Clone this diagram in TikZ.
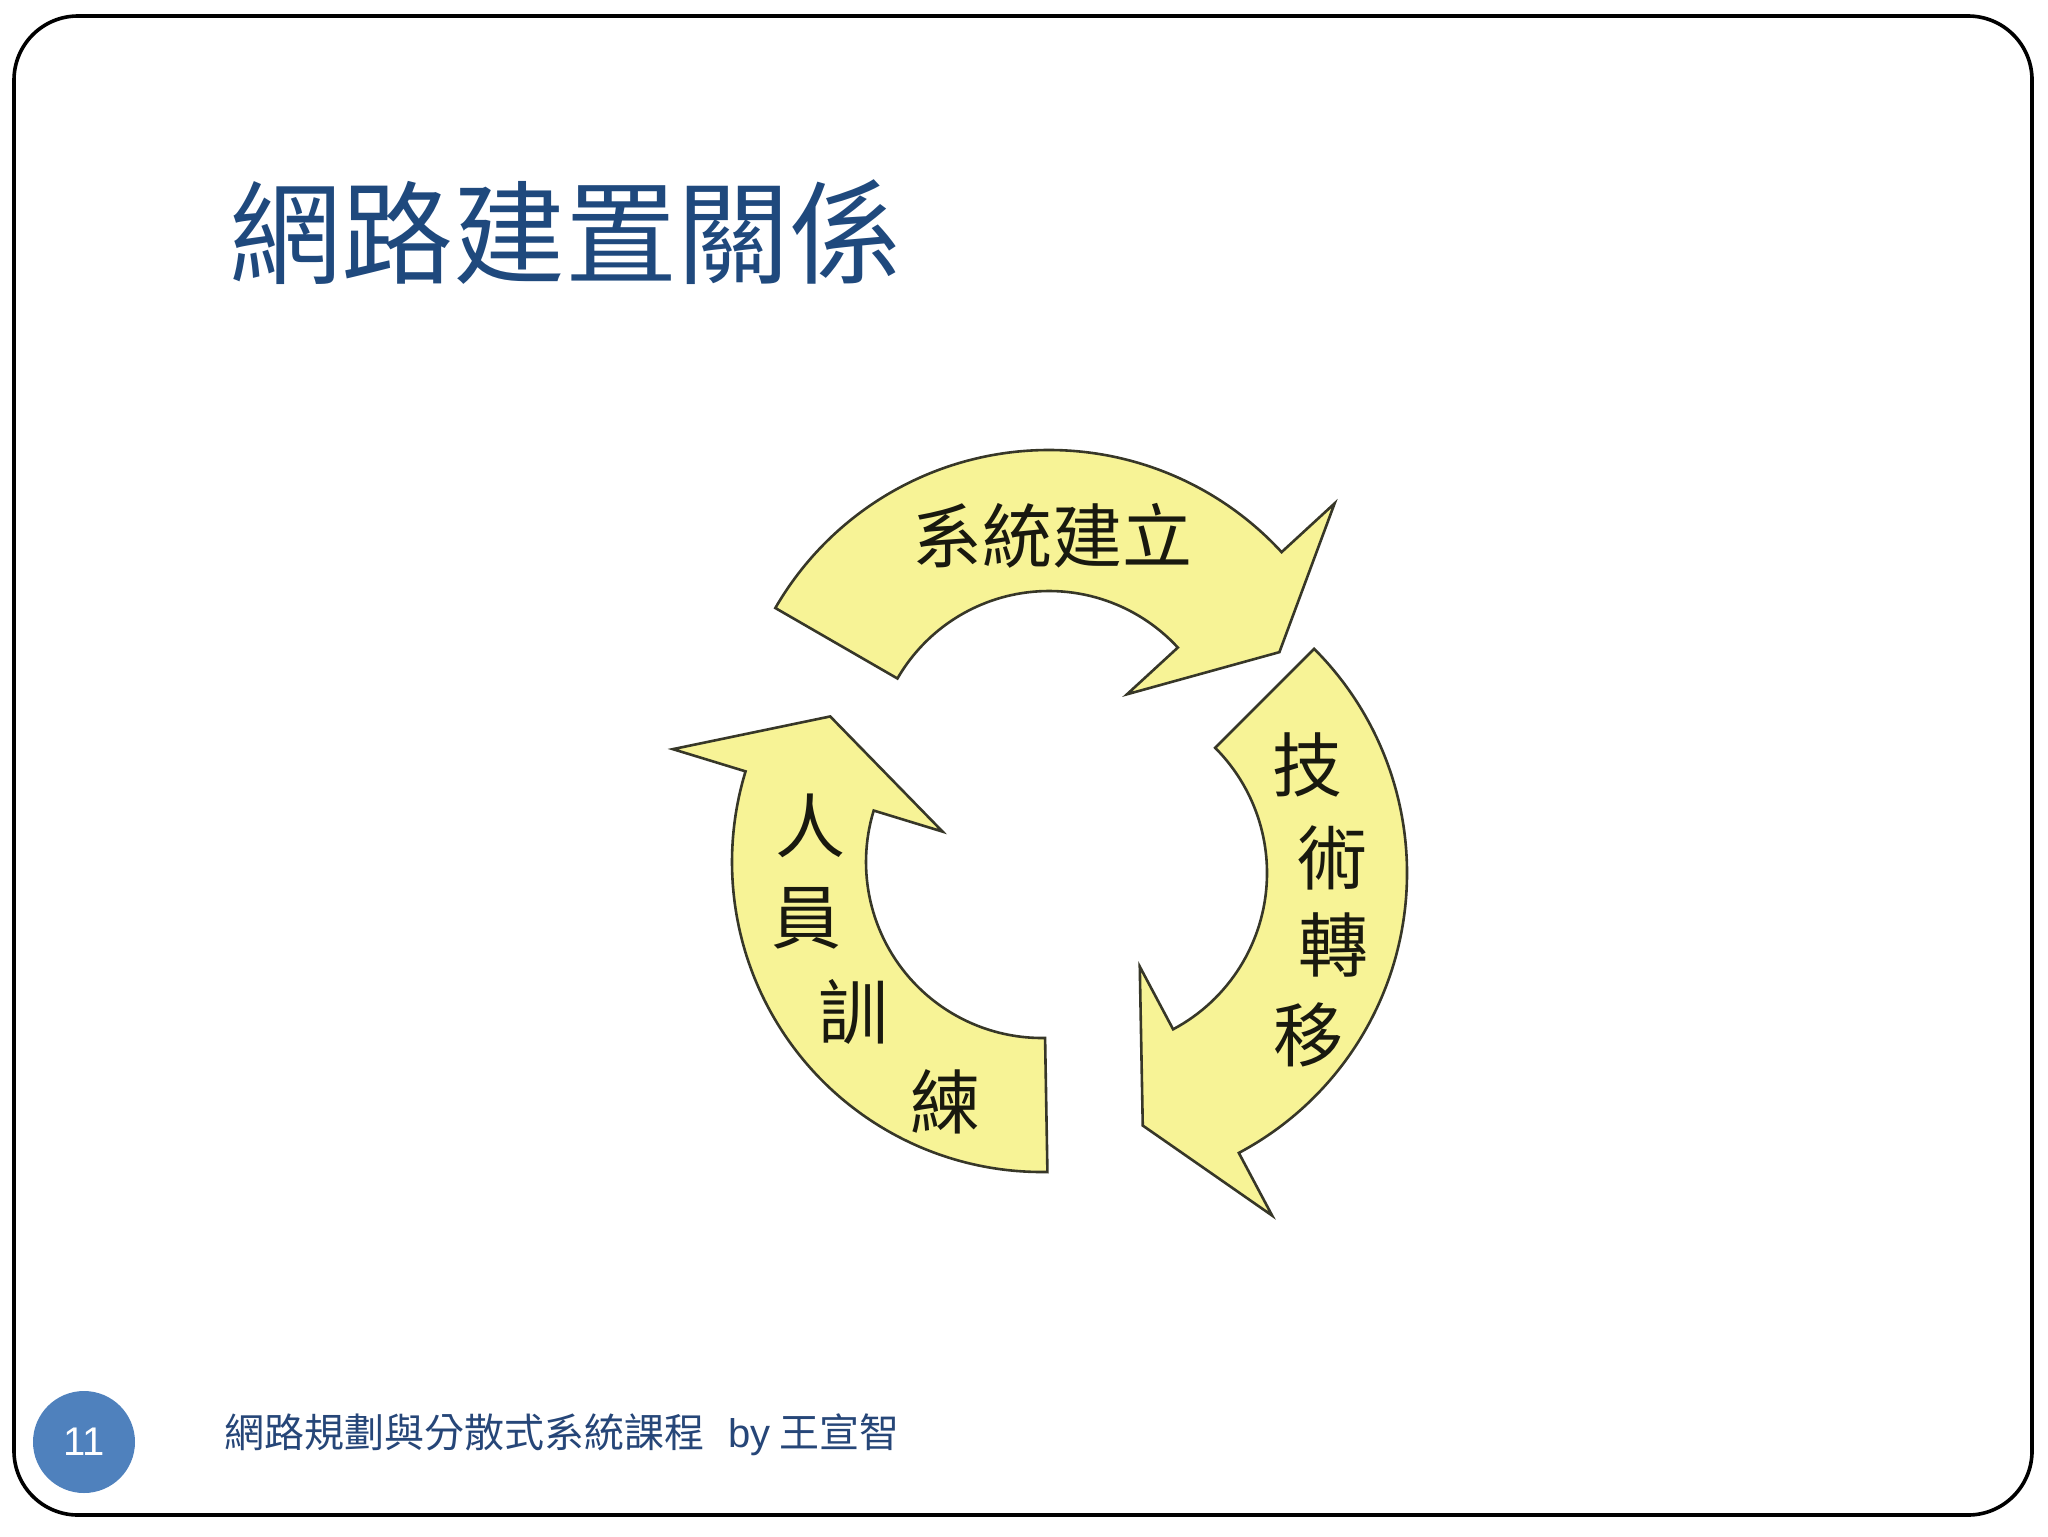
\documentclass[tikz,border=0pt]{standalone}
\usepackage{fontspec}
\newfontfamily\cjk{Noto Sans CJK TC}
\newfontfamily\latin{Liberation Sans}
\definecolor{titleblue}{RGB}{31,73,125}
\definecolor{footblue}{RGB}{38,70,120}
\definecolor{accentblue}{RGB}{79,129,189}
\definecolor{cycfill}{RGB}{247,243,150}
\definecolor{cycline}{RGB}{55,55,40}
\definecolor{cyctext}{RGB}{25,25,15}
\begin{document}
\begin{tikzpicture}[x=0.5pt,y=-0.5pt,
  frame/.style={draw=black, line width=1.8pt, rounded corners=32pt},
  cyc/.style={fill=cycfill, draw=cycline, line width=1.3pt, line join=miter},
  lbl/.style={font=\cjk\fontsize{35pt}{37pt}\selectfont, text=cyctext, inner sep=0pt}]
\useasboundingbox (0,0) rectangle (2048,1536);
\draw[frame] (14,16) rectangle (2032,1515);
% title
\node[inner sep=0pt, text=titleblue, font=\cjk\fontsize{56pt}{60pt}\selectfont] (title) at (565,232) {網路建置關係};
% top arrow
\begin{scope}[shift={(1049,766)}]
\path[cyc] (-150:316) arc[start angle=-150, end angle=-42.6, radius=316]
  -- (-42.6:388) -- (-26.3:257) -- (-42.6:106) -- (-42.6:175)
  arc[start angle=-42.6, end angle=-150, radius=175] -- cycle;
\end{scope}
% right arrow
\begin{scope}[shift={(1090,873)}]
\path[cyc] (-45:317) arc[start angle=-45, end angle=62, radius=317]
  -- (62:388) -- (78.2:258) -- (62:106) -- (62:177)
  arc[start angle=62, end angle=-45, radius=177] -- cycle;
\end{scope}
% left arrow
\begin{scope}[shift={(1042,862)}]
\path[cyc] (89:310) arc[start angle=89, end angle=197, radius=310]
  -- (197:386) -- (214.5:257) -- (197:104) -- (197:176)
  arc[start angle=197, end angle=89, radius=176] -- cycle;
\end{scope}
% labels
\node[lbl] (sys) at (1052,536) {系統建立};
\node[lbl] (t1) at (1307,765) {技};
\node[lbl] (t2) at (1332,858) {術};
\node[lbl] (t3) at (1333,945) {轉};
\node[lbl] (t4) at (1308,1035) {移};
\node[lbl] (p1) at (810,826) {人};
\node[lbl] (p2) at (806,918) {員};
\node[lbl] (p3) at (853,1012) {訓};
\node[lbl] (p4) at (945,1102) {練};
% footer
\node[circle, fill=accentblue, minimum size=51pt, inner sep=0pt, text=white, font=\latin\fontsize{20pt}{20pt}\selectfont] (page) at (84,1442) {11};
\node[anchor=west, inner sep=0pt, text=footblue, font=\cjk\fontsize{20pt}{22pt}\selectfont] (foot) at (224,1435) {網路規劃與分散式系統課程\hspace{0.6em}{\latin by} 王宣智};
\end{tikzpicture}
\end{document}
